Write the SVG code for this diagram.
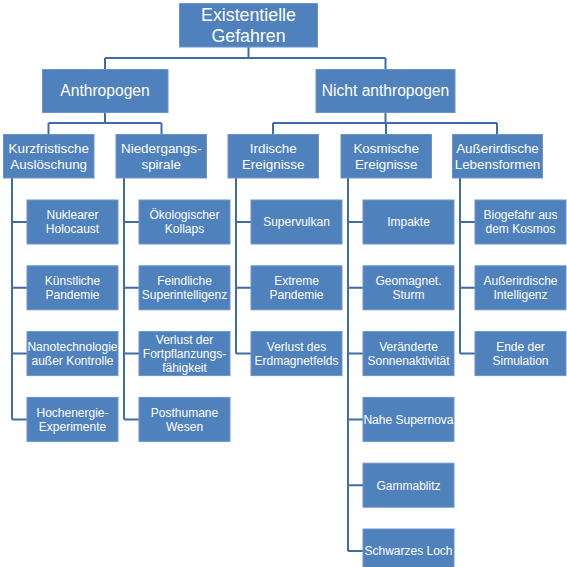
<svg xmlns="http://www.w3.org/2000/svg" width="567" height="567" viewBox="0 0 567 567">
<style>
rect.b{fill:#4f81bd;stroke:#6b95c9;stroke-width:1}
text{fill:#ffffff;font-family:"Liberation Sans",Arial,sans-serif;text-anchor:middle}
.t0{font-size:17.8px}
.t1{font-size:15.6px}
.t2{font-size:13.4px}
.t3{font-size:12px}
.c{fill:none;stroke:#3e6ca9;stroke-width:2}
</style>
<rect width="567" height="567" fill="#ffffff"/>
<g id="connectors" class="c">
<path d="M248.5 47V58M105 58H385.5M105 58V69M385.5 58V69"/>
<path d="M105 113V123M48.5 123H161.5M48.5 123V134M161.5 123V134"/>
<path d="M385.5 113V123M273 123H497M273 123V134M386 123V134M497 123V134"/>
<path d="M12 178V419.4M12 222H27M12 287.8H27M12 353.6H27M12 419.4H27"/>
<path d="M124 178V419.4M124 222H139M124 287.8H139M124 353.6H139M124 419.4H139"/>
<path d="M236 178V353.6M236 222H251M236 287.8H251M236 353.6H251"/>
<path d="M348 178V551M348 222H363M348 287.8H363M348 353.6H363M348 419.4H363M348 485.2H363M348 551H363"/>
<path d="M460 178V353.6M460 222H475M460 287.8H475M460 353.6H475"/>
</g>
<g id="root"><rect class="b" x="179.5" y="3.5" width="138" height="43.5"/><text class="t0" x="248.5" y="20.7">Existentielle</text><text class="t0" x="248.5" y="41.7">Gefahren</text></g>
<g id="anthropogen"><rect class="b" x="42.5" y="69.5" width="125.5" height="43"/><text class="t1" x="105" y="96">Anthropogen</text></g>
<g id="nicht-anthropogen"><rect class="b" x="316" y="69.5" width="139" height="43"/><text class="t1" x="385.5" y="96">Nicht anthropogen</text></g>
<g id="kurzfristisch"><rect class="b" x="3.5" y="134.5" width="90.5" height="43.5"/><text class="t2" x="48.7" y="153">Kurzfristische</text><text class="t2" x="48.7" y="169">Auslöschung</text></g>
<g id="niedergang"><rect class="b" x="116" y="134.5" width="90.5" height="43.5"/><text class="t2" x="161.2" y="153">Niedergangs-</text><text class="t2" x="161.2" y="169">spirale</text></g>
<g id="irdisch"><rect class="b" x="228" y="134.5" width="90.5" height="43.5"/><text class="t2" x="273.2" y="153">Irdische</text><text class="t2" x="273.2" y="169">Ereignisse</text></g>
<g id="kosmisch"><rect class="b" x="341" y="134.5" width="90.5" height="43.5"/><text class="t2" x="386.2" y="153">Kosmische</text><text class="t2" x="386.2" y="169">Ereignisse</text></g>
<g id="ausserirdisch"><rect class="b" x="452.5" y="134.5" width="90" height="43.5"/><text class="t2" x="497.5" y="153">Außerirdische</text><text class="t2" x="497.5" y="169">Lebensformen</text></g>
<g id="nuklear"><rect class="b" x="27" y="200" width="91" height="44"/><text class="t3" x="72.5" y="219.3">Nuklearer</text><text class="t3" x="72.5" y="233.3">Holocaust</text></g>
<g id="pandemie-k"><rect class="b" x="27" y="265.8" width="91" height="44"/><text class="t3" x="72.5" y="285.1">Künstliche</text><text class="t3" x="72.5" y="299.1">Pandemie</text></g>
<g id="nano"><rect class="b" x="27" y="331.6" width="91" height="44"/><text class="t3" x="72.5" y="350.9">Nanotechnologie</text><text class="t3" x="72.5" y="364.9">außer Kontrolle</text></g>
<g id="hochenergie"><rect class="b" x="27" y="397.4" width="91" height="44"/><text class="t3" x="72.5" y="416.7">Hochenergie-</text><text class="t3" x="72.5" y="430.7">Experimente</text></g>
<g id="oeko"><rect class="b" x="139" y="200" width="91" height="44"/><text class="t3" x="184.5" y="219.3">Ökologischer</text><text class="t3" x="184.5" y="233.3">Kollaps</text></g>
<g id="superint"><rect class="b" x="139" y="265.8" width="91" height="44"/><text class="t3" x="184.5" y="285.1">Feindliche</text><text class="t3" x="184.5" y="299.1">Superintelligenz</text></g>
<g id="fortpflanzung"><rect class="b" x="139" y="331.6" width="91" height="44"/><text class="t3" x="184.5" y="343.9">Verlust der</text><text class="t3" x="184.5" y="357.9">Fortpflanzungs-</text><text class="t3" x="184.5" y="371.9">fähigkeit</text></g>
<g id="posthuman"><rect class="b" x="139" y="397.4" width="91" height="44"/><text class="t3" x="184.5" y="416.7">Posthumane</text><text class="t3" x="184.5" y="430.7">Wesen</text></g>
<g id="supervulkan"><rect class="b" x="251" y="200" width="91" height="44"/><text class="t3" x="296.5" y="226.3">Supervulkan</text></g>
<g id="pandemie-e"><rect class="b" x="251" y="265.8" width="91" height="44"/><text class="t3" x="296.5" y="285.1">Extreme</text><text class="t3" x="296.5" y="299.1">Pandemie</text></g>
<g id="erdmagnet"><rect class="b" x="251" y="331.6" width="91" height="44"/><text class="t3" x="296.5" y="350.9">Verlust des</text><text class="t3" x="296.5" y="364.9">Erdmagnetfelds</text></g>
<g id="impakte"><rect class="b" x="363" y="200" width="91" height="44"/><text class="t3" x="408.5" y="226.3">Impakte</text></g>
<g id="geomagnet"><rect class="b" x="363" y="265.8" width="91" height="44"/><text class="t3" x="408.5" y="285.1">Geomagnet.</text><text class="t3" x="408.5" y="299.1">Sturm</text></g>
<g id="sonne"><rect class="b" x="363" y="331.6" width="91" height="44"/><text class="t3" x="408.5" y="350.9">Veränderte</text><text class="t3" x="408.5" y="364.9">Sonnenaktivität</text></g>
<g id="supernova"><rect class="b" x="363" y="397.4" width="91" height="44"/><text class="t3" x="408.5" y="423.7">Nahe Supernova</text></g>
<g id="gammablitz"><rect class="b" x="363" y="463.2" width="91" height="44"/><text class="t3" x="408.5" y="489.5">Gammablitz</text></g>
<g id="schwarzes-loch"><rect class="b" x="363" y="529" width="91" height="44"/><text class="t3" x="408.5" y="555.3">Schwarzes Loch</text></g>
<g id="biogefahr"><rect class="b" x="475" y="200" width="91" height="44"/><text class="t3" x="520.5" y="219.3">Biogefahr aus</text><text class="t3" x="520.5" y="233.3">dem Kosmos</text></g>
<g id="ai-intelligenz"><rect class="b" x="475" y="265.8" width="91" height="44"/><text class="t3" x="520.5" y="285.1">Außerirdische</text><text class="t3" x="520.5" y="299.1">Intelligenz</text></g>
<g id="simulation"><rect class="b" x="475" y="331.6" width="91" height="44"/><text class="t3" x="520.5" y="350.9">Ende der</text><text class="t3" x="520.5" y="364.9">Simulation</text></g>
</svg>
